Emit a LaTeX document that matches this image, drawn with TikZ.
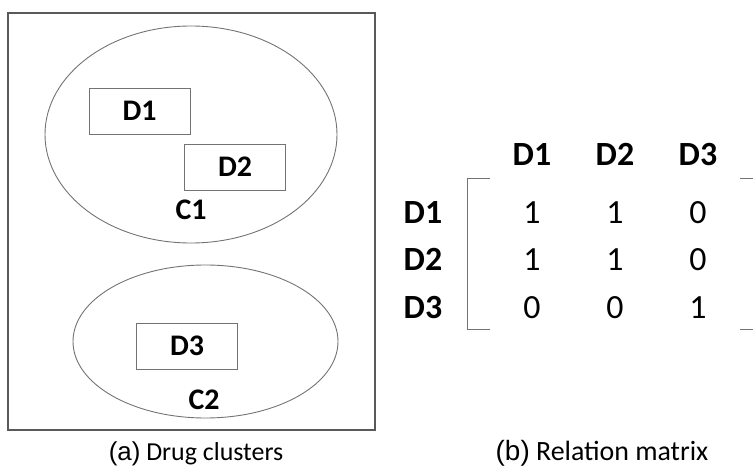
\documentclass[tikz,border=0pt]{standalone}
\usepackage{fontspec}
\setmainfont{Carlito}
\newfontfamily\arialf{Liberation Sans}
\usetikzlibrary{shapes.geometric}
\begin{document}
\begin{tikzpicture}[x=1bp,y=-1bp,
  outline/.style={draw=black!65,line width=1.2bp},
  thinline/.style={draw=black!55,line width=0.9bp},
  drug/.style={thinline,rectangle,minimum width=101bp,minimum height=46bp,inner sep=0pt,text height=19bp,text depth=0pt,font=\fontsize{30}{31}\selectfont\bfseries},
  clus/.style={font=\fontsize{30}{31}\selectfont\bfseries,inner sep=0pt,text height=19bp,text depth=0pt},
  hdr/.style={font=\fontsize{34}{36}\selectfont\bfseries,inner sep=0pt,text height=22bp,text depth=0pt},
  ent/.style={font=\fontsize{34}{36}\selectfont,inner sep=0pt,text height=22bp,text depth=0pt},
  captxt/.style={font=\fontsize{26}{28}\selectfont,inner sep=0pt,anchor=base}]
\useasboundingbox (0,0) rectangle (753,467);
% panel (a)
\node[outline,rectangle,minimum width=367bp,minimum height=417bp,inner sep=0pt] (frame) at (191.5,221.5) {};
\node[thinline,ellipse,minimum width=292bp,minimum height=217bp,inner sep=0pt] (c1) at (191,134.5) {};
\node[thinline,ellipse,minimum width=265bp,minimum height=153bp,inner sep=0pt] (c2) at (205.5,341.5) {};
\node[drug] (d1) at (139.5,111) {D1};
\node[drug] (d2) at (235,167) {D2};
\node[drug] (d3) at (187,346) {D3};
\node[clus] (l1) at (191,210) {C1};
\node[clus] (l2) at (204,400) {C2};
\node[captxt] (capa) at (196,460) {{\arialf(a)} Drug clusters};
% panel (b)
\node[hdr] (h1) at (532,155) {D1};
\node[hdr] (h2) at (615,155) {D2};
\node[hdr] (h3) at (698,155) {D3};
\node[hdr] (r1) at (423,213) {D1};
\node[hdr] (r2) at (423,260) {D2};
\node[hdr] (r3) at (423,307) {D3};
\node[ent] (m11) at (532,213) {1};
\node[ent] (m12) at (615,213) {1};
\node[ent] (m13) at (698,213) {0};
\node[ent] (m21) at (532,260) {1};
\node[ent] (m22) at (615,260) {1};
\node[ent] (m23) at (698,260) {0};
\node[ent] (m31) at (532,307) {0};
\node[ent] (m32) at (615,307) {0};
\node[ent] (m33) at (698,307) {1};
\coordinate (lt) at (490,178);
\coordinate (lb) at (490,329);
\coordinate (rt) at (740,178);
\coordinate (rb) at (740,329);
\draw[thinline] (lt) -- (467,178) -- (467,329) -- (lb);
\draw[thinline] (rt) -- (753,178);
\draw[thinline] (rb) -- (753,329);
\node[captxt,font=\fontsize{28}{30}\selectfont] (capb) at (602,460) {{\arialf(b)} Relation matrix};
\end{tikzpicture}
\end{document}
